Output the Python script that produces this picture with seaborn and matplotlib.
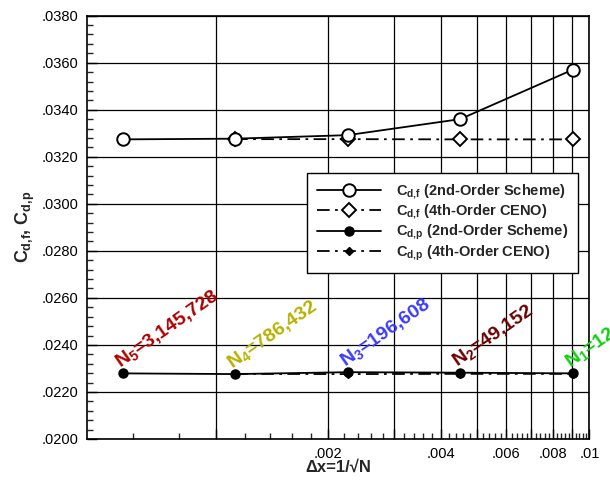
import numpy as np
import pandas as pd
import matplotlib
matplotlib.use("Agg")
import matplotlib.pyplot as plt
from matplotlib.ticker import FixedLocator, FixedFormatter, FuncFormatter
import seaborn as sns

# Grid sizes (number of cells) for the five meshes, finest first
grid_names = ["N$_5$", "N$_4$", "N$_3$", "N$_2$", "N$_1$"]
grid_cells = [3145728, 786432, 196608, 49152, 12288]
grid_labels = ["3,145,728", "786,432", "196,608", "49,152", "12,288"]
grid_colors = ["#b00000", "#b8b000", "#3a3aff", "#6a0000", "#10d010"]

# Drag coefficients on each mesh (same order as grid_cells)
cdf_2nd = [0.03274, 0.03277, 0.03292, 0.03360, 0.03570]
cdp_2nd = [0.02279, 0.02276, 0.02284, 0.02282, 0.02279]
# The 4th-order CENO runs cover the four coarser meshes only
cdf_4th = [0.03275, 0.03275, 0.03274, 0.03274]
cdp_4th = [0.02277, 0.02276, 0.02277, 0.02277]

dx = 1.0 / np.sqrt(np.array(grid_cells, dtype=float))

sns.set_style("ticks")
plt.rcParams["font.family"] = ["Liberation Sans", "DejaVu Sans"]
plt.rcParams["mathtext.fontset"] = "custom"
plt.rcParams["mathtext.rm"] = "Liberation Sans:bold"
plt.rcParams["mathtext.it"] = "Liberation Sans:bold"
plt.rcParams["mathtext.bf"] = "Liberation Sans:bold"

fig = plt.figure(figsize=(6.10, 4.84), dpi=100)
ax = fig.add_axes([0.1421, 0.093, 0.824, 0.8746])

df2 = pd.DataFrame({"dx": dx, "cdf": cdf_2nd, "cdp": cdp_2nd})
df4 = pd.DataFrame({"dx": dx[1:], "cdf": cdf_4th, "cdp": cdp_4th})

dashdot = (0, (7, 3, 1.5, 3))

sns.lineplot(data=df2, x="dx", y="cdf", ax=ax, color="black", lw=1.3,
             marker="o", markersize=9, markerfacecolor="white",
             markeredgecolor="black", markeredgewidth=1.4,
             label=r"$C_{d{,}f}$ (2nd-Order Scheme)", zorder=5)
sns.lineplot(data=df4, x="dx", y="cdf", ax=ax, color="black", lw=1.3,
             linestyle=dashdot, marker="D", markersize=7,
             markerfacecolor="white", markeredgecolor="black",
             markeredgewidth=1.4,
             label=r"$C_{d{,}f}$ (4th-Order CENO)", zorder=4)
sns.lineplot(data=df2, x="dx", y="cdp", ax=ax, color="black", lw=1.3,
             marker="o", markersize=6.5, markerfacecolor="black",
             markeredgecolor="black", markeredgewidth=1,
             label=r"$C_{d{,}p}$ (2nd-Order Scheme)", zorder=5)
sns.lineplot(data=df4, x="dx", y="cdp", ax=ax, color="black", lw=1.3,
             linestyle=dashdot, marker="D", markersize=4,
             markerfacecolor="black", markeredgecolor="black",
             markeredgewidth=1,
             label=r"$C_{d{,}p}$ (4th-Order CENO)", zorder=4)

ax.set_xscale("log")
ax.set_xlim(0.000452, 0.01)
ax.set_ylim(0.0200, 0.0380)

# x ticks: grid on every 0.001, labels on even thousandths
xmaj = [0.001 * k for k in range(1, 11)]
xlab = ["", ".002", "", ".004", "", ".006", "", ".008", "", ".01"]
ax.xaxis.set_major_locator(FixedLocator(xmaj))
ax.xaxis.set_major_formatter(FixedFormatter(xlab))
xmin = [0.0002 * k for k in range(3, 50) if k % 5 != 0]
ax.xaxis.set_minor_locator(FixedLocator(xmin))
ax.xaxis.set_minor_formatter(FixedFormatter([""] * len(xmin)))

ymaj = np.arange(0.0200, 0.03801, 0.002)
ax.yaxis.set_major_locator(FixedLocator(ymaj))
ax.yaxis.set_major_formatter(FuncFormatter(lambda v, p: f"{v:.4f}".lstrip("0")))
ax.yaxis.set_minor_locator(FixedLocator(np.arange(0.0200, 0.03801, 0.0004)))

ax.grid(True, which="major", color="black", lw=0.9)
ax.tick_params(axis="both", which="major", direction="in", length=7,
               width=1, labelsize=10.5, pad=6, colors="black")
ax.tick_params(axis="both", which="minor", direction="in", length=4.5,
               width=1)
for s in ax.spines.values():
    s.set_linewidth(1.2)
    s.set_color("black")

ax.set_xlabel("\u0394x=1/\u221aN", fontsize=12, fontweight="bold", labelpad=-1)
ax.set_ylabel(r"$C_{d{,}f}$, $C_{d{,}p}$", fontsize=13, fontweight="bold",
              labelpad=3)

# grid annotations above the pressure-drag points
for i in range(len(grid_cells)):
    ax.annotate(f"{grid_names[i]}={grid_labels[i]}",
                xy=(dx[i], cdp_2nd[i]), xytext=(0, 1),
                textcoords="offset points", rotation=35,
                rotation_mode="anchor", ha="left", va="bottom",
                fontsize=14, fontweight="bold", color=grid_colors[i],
                annotation_clip=False, zorder=6)

leg = ax.legend(loc="upper left", bbox_to_anchor=(0.503, 0.6426),
                bbox_transform=fig.transFigure, borderaxespad=0,
                frameon=True, fancybox=False, framealpha=1,
                edgecolor="black", handlelength=4.4,
                handletextpad=1.0, labelspacing=0.1, borderpad=0.7,
                prop={"weight": "bold", "size": 10.5})
leg.get_frame().set_linewidth(1.0)

fig.savefig("out.png", dpi=100)
